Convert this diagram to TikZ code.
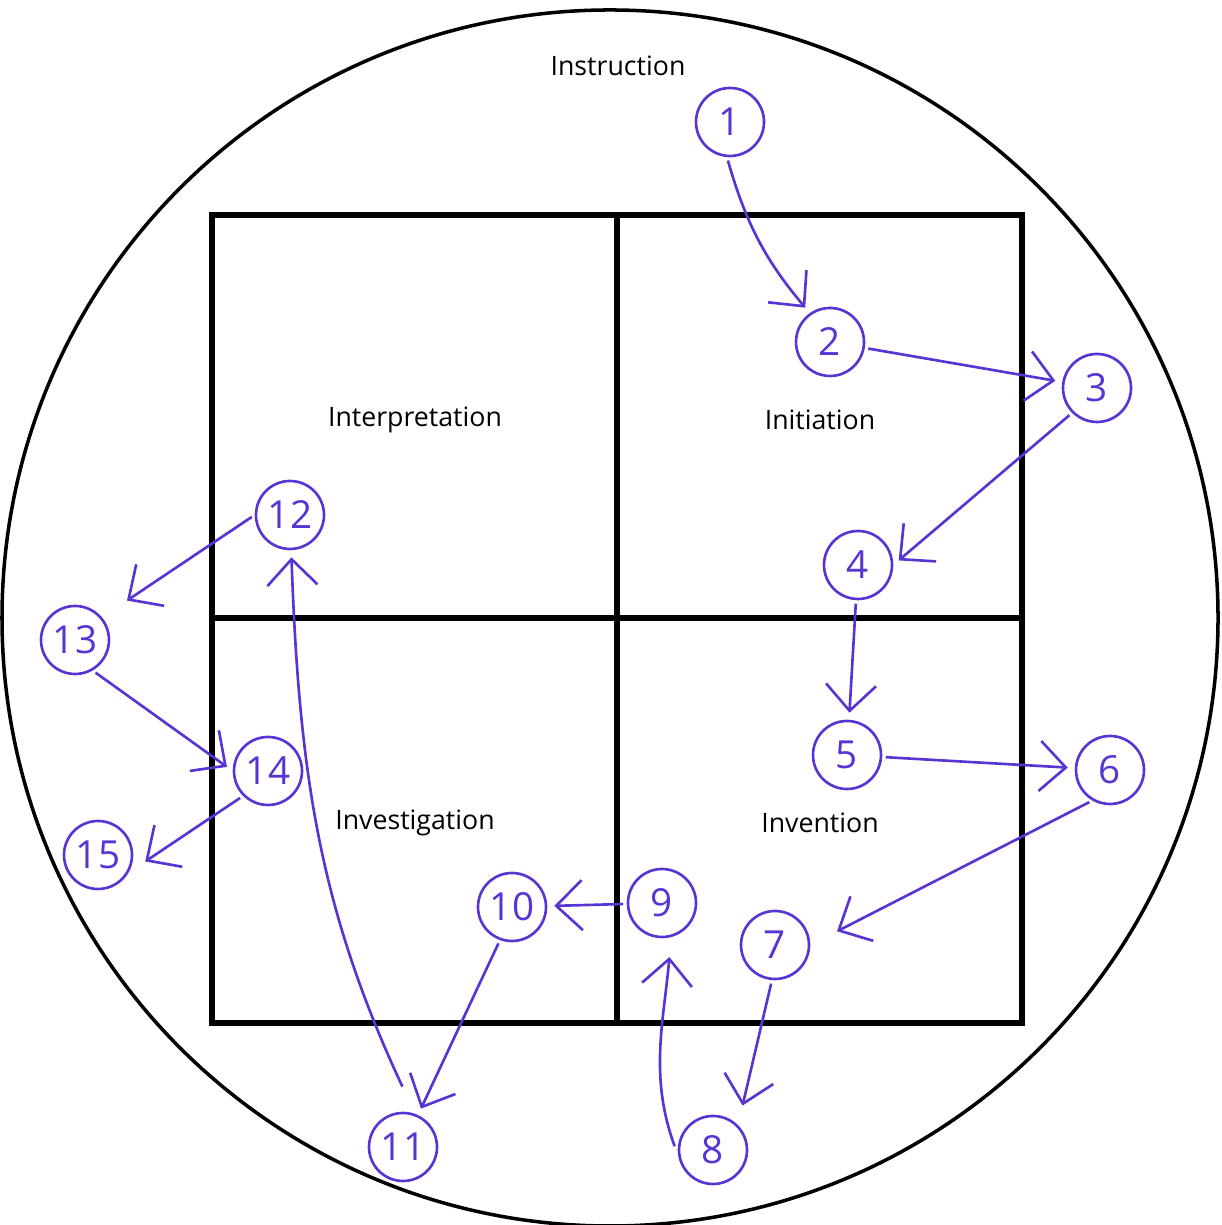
\documentclass[tikz,border=0pt]{standalone}
\usepackage{fontspec}
\setmainfont{Open Sans}
\usetikzlibrary{arrows.meta}
\definecolor{pen}{RGB}{88,52,210}

\begin{document}
\begin{tikzpicture}[
    numcirc/.style={draw=pen, text=pen, circle, line width=0.75pt, minimum size=0.68cm,
        inner sep=0pt, font=\fontsize{11}{12}\selectfont},
    flow/.style={draw=pen, line width=0.75pt, -{Straight Barb[length=2.6mm,width=5mm]},
        shorten >=2pt, shorten <=1pt},
    quad/.style={font=\fontsize{7.6}{9}\selectfont}]
    \useasboundingbox (0,0) rectangle (12.21,12.25);

    % Outer circle and the four quadrants
    \draw[line width=1pt] (6.10,6.07) circle (6.08);
    \draw[line width=1.7pt] (2.12,2.02) rectangle (10.22,10.10);
    \draw[line width=1.7pt] (6.17,2.02) -- (6.17,10.10);
    \draw[line width=1.7pt] (2.12,6.07) -- (10.22,6.07);

    % Labels
    \node[quad] (instr) at (6.18, 11.59) {Instruction};
    \node[quad] (interp) at (4.15, 8.05) {Interpretation};
    \node[quad] (initi) at (8.20, 8.05) {Initiation};
    \node[quad] (invest) at (4.15, 4.02) {Investigation};
    \node[quad] (inven) at (8.20, 4.02) {Invention};

    % Numbered steps
    \foreach \n/\x/\y in {1/7.30/11.03, 2/8.30/8.83, 3/10.97/8.37, 4/8.58/6.60,
        5/8.47/4.70, 6/11.10/4.55, 7/7.75/2.80, 8/7.13/0.75, 9/6.62/3.22,
        10/5.12/3.18, 11/4.03/0.78, 12/2.90/7.10, 13/0.75/5.85, 14/2.68/4.54,
        15/0.98/3.70} {
        \node[numcirc] (n\n) at (\x,\y) {\n};
    }

    % Path between the steps
    \draw[flow] (n1.265) to[bend right=12] (n2.125);
    \foreach \a/\b in {2/3, 4/5, 5/6, 9/10} {
        \draw[flow] (n\a) -- (n\b);
    }
    \draw[flow] (n3.225) -- (n4.east);
    \draw[flow, shorten >=3mm] (n6.240) -- (n7.east);
    \draw[flow, shorten >=2mm] (n7.265) -- (n8.north east);
    \draw[flow, shorten <=3pt, shorten >=2mm] (n8.190) to[out=110, in=-95] (n9.-75);
    \draw[flow] (n10.250) -- (n11);
    \draw[flow, shorten <=3mm] (n11.70) to[out=115, in=-88] (n12);
    \draw[flow, shorten >=3mm] (n12.west) -- (n13.40);
    \draw[flow] (n13.-60) -- (n14.west);
    \draw[flow, shorten >=2mm] (n14.225) -- (n15.-30);
\end{tikzpicture}
\end{document}
